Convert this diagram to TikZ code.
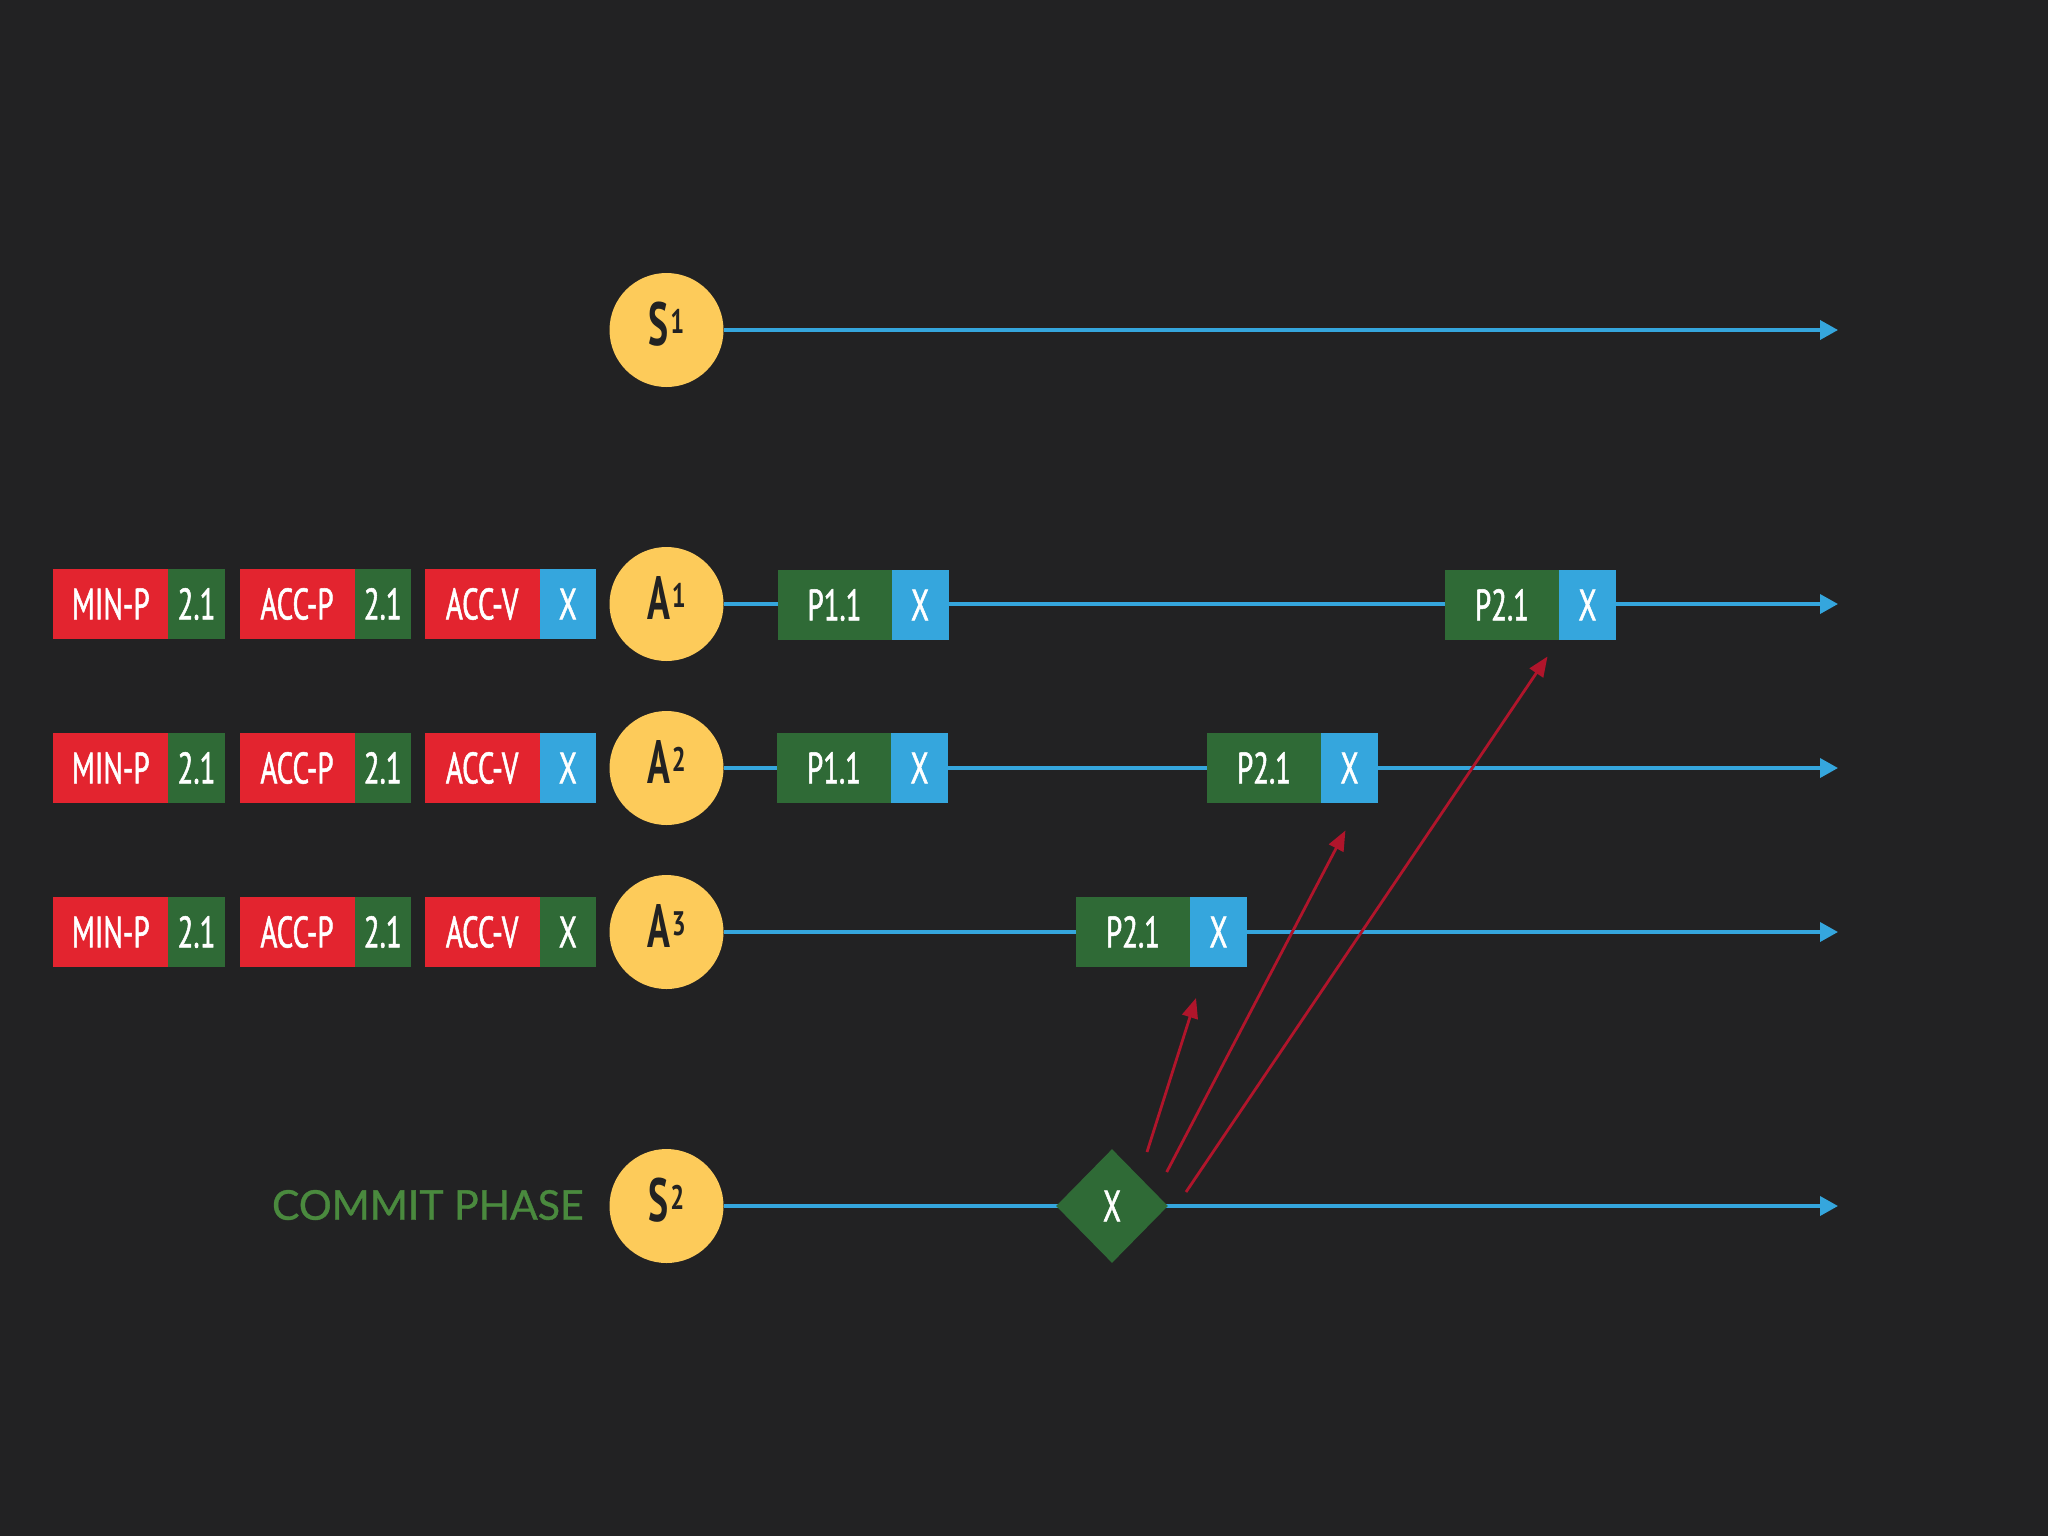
\documentclass[tikz,border=0pt]{standalone}
\usepackage{fontspec}
\setmainfont{Lato}
\newfontfamily\commitfont[FakeBold=0.9]{Lato}
\newfontfamily\cond[FakeStretch=0.66,FakeBold=1.2]{PT Sans}
\newfontfamily\condc[FakeStretch=0.62]{PT Sans Bold}
\newfontfamily\condsup[FakeStretch=0.72]{PT Sans Bold}
\usetikzlibrary{arrows.meta,shapes.geometric,positioning}
\definecolor{bgc}{HTML}{222223}
\definecolor{redb}{HTML}{E3242F}
\definecolor{greenb}{HTML}{2F6A36}
\definecolor{blueb}{HTML}{35A6DD}
\definecolor{yel}{HTML}{FDCB5A}
\definecolor{arrred}{HTML}{B0152B}
\definecolor{commitc}{HTML}{4A8A3E}
\definecolor{darkt}{HTML}{222222}
\pgfdeclarelayer{back}
\pgfsetlayers{back,main}
\newcommand{\boxfont}{\cond\fontsize{22}{22}\selectfont}
\newcommand{\circlab}[2]{{\condc\fontsize{30.5}{30.5}\selectfont #1\kern0.8pt\raisebox{6pt}{\condsup\fontsize{17}{17}\selectfont #2}}}
\begin{document}
\begin{tikzpicture}[x=0.5pt,y=-0.5pt,
  cell/.style={inner sep=0pt, outer sep=0pt, minimum height=35pt, text height=15.4pt, text depth=0pt, text=white, font=\boxfont},
  redcell/.style={cell, fill=redb, minimum width=57.5pt},
  gsmall/.style={cell, fill=greenb, minimum width=28.25pt},
  bsmall/.style={cell, fill=blueb, minimum width=28.25pt},
  gprop/.style={cell, fill=greenb, minimum width=57pt},
  bprop/.style={cell, fill=blueb, minimum width=28.5pt},
  circnode/.style={circle, fill=yel, minimum size=57pt, inner sep=0pt, text=darkt, text height=21.3pt, text depth=6pt},
  bline/.style={draw=blueb, line width=1.8pt, -{Triangle[length=9pt,width=9.5pt]}},
  rarrow/.style={draw=arrred, line width=1.4pt, -{Triangle[length=10pt,width=8pt]}},
  dnode/.style={diamond, fill=greenb, minimum width=56pt, minimum height=57pt, inner sep=0pt, text=white, font=\boxfont, text height=15.4pt, text depth=0pt}
]
\useasboundingbox (0,0) rectangle (2048,1536);
\begin{pgfonlayer}{back}
\fill[bgc] (0,0) rectangle (2048,1536);
\end{pgfonlayer}

% circles
\node[circnode] (S1) at (666.5,330) {\circlab{S}{1}};
\node[circnode] (A1) at (666.5,604) {\circlab{A}{1}};
\node[circnode] (A2) at (666.5,768) {\circlab{A}{2}};
\node[circnode] (A3) at (666.5,932) {\circlab{A}{3}};
\node[circnode] (S2) at (666.5,1206) {\circlab{S}{2}};

% line ends
\coordinate (S1e) at (1838,330);
\coordinate (A1e) at (1838,604);
\coordinate (A2e) at (1838,768);
\coordinate (A3e) at (1838,932);
\coordinate (S2e) at (1838,1206);

\begin{pgfonlayer}{back}
\draw[bline] (S1.east) -- (S1e);
\draw[bline] (A1.east) -- (A1e);
\draw[bline] (A2.east) -- (A2e);
\draw[bline] (A3.east) -- (A3e);
\draw[bline] (S2.east) -- (S2e);
\end{pgfonlayer}

% left message boxes, row 1
\node[redcell, anchor=west] (m1) at (53.3,604) {MIN-P};
\node[gsmall, right=0pt of m1] (m1v) {2.1};
\node[redcell, anchor=west] (p1) at (239.5,604) {ACC-P};
\node[gsmall, right=0pt of p1] (p1v) {2.1};
\node[redcell, anchor=west] (v1) at (424.6,604) {ACC-V};
\node[bsmall, right=0pt of v1] (v1v) {X};
% row 2
\node[redcell, anchor=west] (m2) at (53.3,768) {MIN-P};
\node[gsmall, right=0pt of m2] (m2v) {2.1};
\node[redcell, anchor=west] (p2) at (239.5,768) {ACC-P};
\node[gsmall, right=0pt of p2] (p2v) {2.1};
\node[redcell, anchor=west] (v2) at (424.6,768) {ACC-V};
\node[bsmall, right=0pt of v2] (v2v) {X};
% row 3
\node[redcell, anchor=west] (m3) at (53.3,932) {MIN-P};
\node[gsmall, right=0pt of m3] (m3v) {2.1};
\node[redcell, anchor=west] (p3) at (239.5,932) {ACC-P};
\node[gsmall, right=0pt of p3] (p3v) {2.1};
\node[redcell, anchor=west] (v3) at (424.6,932) {ACC-V};
\node[gsmall, right=0pt of v3] (v3v) {X};

% proposals on the timelines
\node[gprop, anchor=west] (a1p1) at (777.5,605) {P1.1};
\node[bprop, right=0pt of a1p1] (a1p1x) {X};
\node[gprop, anchor=west] (a1p2) at (1445,605) {P2.1};
\node[bprop, right=0pt of a1p2] (a1p2x) {X};
\node[gprop, anchor=west] (a2p1) at (777,768) {P1.1};
\node[bprop, right=0pt of a2p1] (a2p1x) {X};
\node[gprop, anchor=west] (a2p2) at (1207,768) {P2.1};
\node[bprop, right=0pt of a2p2] (a2p2x) {X};
\node[gprop, anchor=west] (a3p2) at (1076,932) {P2.1};
\node[bprop, right=0pt of a3p2] (a3p2x) {X};

% commit
\node[dnode] (D) at (1112,1206) {X};
\node[anchor=east, text=commitc, font=\commitfont\fontsize{20.5}{20.5}\selectfont, inner sep=0pt, text height=14.7pt, text depth=0pt] (cp) at (584,1205) {COMMIT PHASE};

% red arrows
\coordinate (r1s) at (1147,1152);
\coordinate (r1e) at (1196,998);
\coordinate (r2s) at (1166.7,1172);
\coordinate (r2e) at (1345.4,830.5);
\coordinate (r3s) at (1186,1192);
\coordinate (r3e) at (1547.5,656.5);
\draw[rarrow] (r1s) -- (r1e);
\draw[rarrow] (r2s) -- (r2e);
\draw[rarrow] (r3s) -- (r3e);
\end{tikzpicture}
\end{document}
